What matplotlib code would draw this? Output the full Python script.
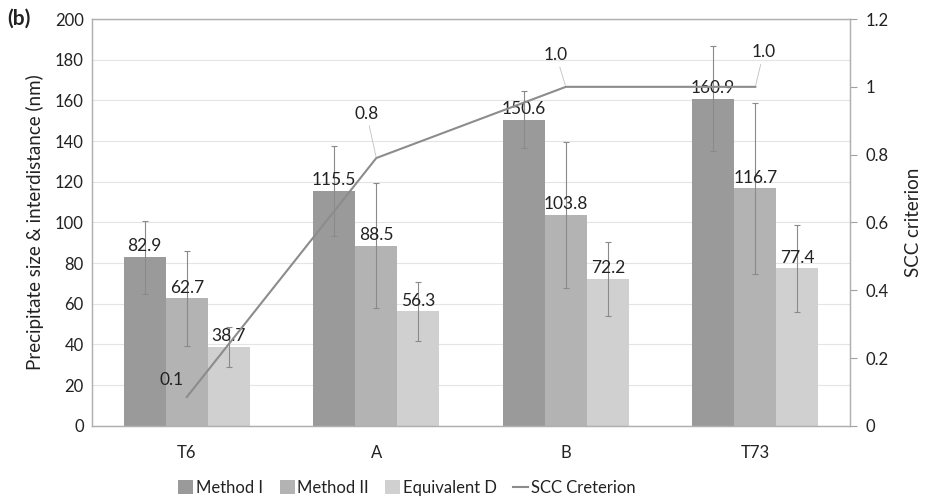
#!/usr/bin/env python3

import numpy as np
import matplotlib
matplotlib.use('Agg')
import matplotlib.pyplot as plt
from matplotlib.ticker import FuncFormatter

plt.rcParams['font.family'] = ['Lato', 'DejaVu Sans']

categories = ['T6', 'A', 'B', 'T73']
method_1 = [82.9, 115.5, 150.6, 160.9]
method_2 = [62.7, 88.5, 103.8, 116.7]
equiv_d = [38.7, 56.3, 72.2, 77.4]
err_1 = [18, 22, 14, 26]
err_2 = [23.3, 30.7, 35.8, 42]
err_d = [10, 14.5, 18, 21.2]
scc = [0.085, 0.79, 1.0, 1.0]

series = [('Method I', method_1, err_1, '#9a9a9a'),
          ('Method II', method_2, err_2, '#b3b3b3'),
          ('Equivalent D', equiv_d, err_d, '#d0d0d0')]

fig = plt.figure(figsize=(9.25, 5.01), dpi=100)
ax = fig.add_axes([0.0995, 0.150, 0.8195, 0.812])
ax2 = ax.twinx()

x = np.arange(len(categories))
w = 0.222
for k, (name, vals, errs, col) in enumerate(series):
    pos = x + (k - 1) * w
    ax.bar(pos, vals, w, color=col, label=name, zorder=2)
    ax.errorbar(pos, vals, yerr=errs, fmt='none', ecolor='#8a8a8a',
                elinewidth=0.8, capsize=2.5, capthick=0.8, zorder=3)
    for p, v in zip(pos, vals):
        ax.annotate(f'{v:.1f}', (p, v), xytext=(0, 2), textcoords='offset points',
                    ha='center', va='bottom', fontsize=12.5, color='#222222', zorder=4)

ax.set_xlim(-0.5, 3.5)
ax.set_ylim(0, 200)
ax.set_yticks(np.arange(0, 201, 20))
ax.set_xticks(x)
ax.set_xticklabels(categories)
ax.grid(axis='y', color='#e4e4e4', lw=0.8, zorder=0)
ax.set_axisbelow(True)
ax.tick_params(axis='both', length=0, labelsize=12, colors='#222222', pad=6)
ax.tick_params(axis='x', pad=14)
ax.set_ylabel('Precipitate size & interdistance (nm)', fontsize=13.5, color='#222222',
              labelpad=8)
for s in ax.spines.values():
    s.set_color('#b0b0b0')
    s.set_linewidth(0.9)

ax2.plot(x, scc, color='#8c8c8c', lw=1.5, label='SCC Creterion', zorder=5)
ax2.set_ylim(0, 1.2)
ax2.set_yticks(np.arange(0, 1.21, 0.2))
ax2.yaxis.set_major_formatter(FuncFormatter(lambda v, p: f'{v:g}'))
ax2.tick_params(axis='y', length=5, color='#a0a0a0', labelsize=12, colors='#222222', pad=6)
ax2.tick_params(axis='y', color='#a0a0a0')
ax2.set_ylabel('SCC criterion', fontsize=13.5, color='#222222', labelpad=12)
for s in ax2.spines.values():
    s.set_color('#b0b0b0')
    s.set_linewidth(0.9)

offsets = [(-11, 12), (-7, 32), (-7, 23), (6, 25)]
for xi, v, off in zip(x, scc, offsets):
    arrow = None
    if off[1] > 15:
        arrow = dict(arrowstyle='-', color='#c0c0c0', lw=0.6, shrinkA=1, shrinkB=1)
    ax2.annotate(f'{v:.1f}', (xi, v), xytext=off, textcoords='offset points',
                 ha='center', va='center', fontsize=12.5, color='#222222',
                 arrowprops=arrow, zorder=6)

fig.text(0.008, 0.962, '(b)', fontsize=15, fontweight='bold', va='center', color='#222222')

h1, l1 = ax.get_legend_handles_labels()
h2, l2 = ax2.get_legend_handles_labels()
fig.legend(h1 + h2, l1 + l2, loc='center', bbox_to_anchor=(0.44, 0.026), ncol=4,
           frameon=False, fontsize=12, handlelength=0.9, handleheight=0.9,
           handletextpad=0.15, columnspacing=1.0, labelcolor='#222222')

plt.savefig('out.png', dpi=100)
